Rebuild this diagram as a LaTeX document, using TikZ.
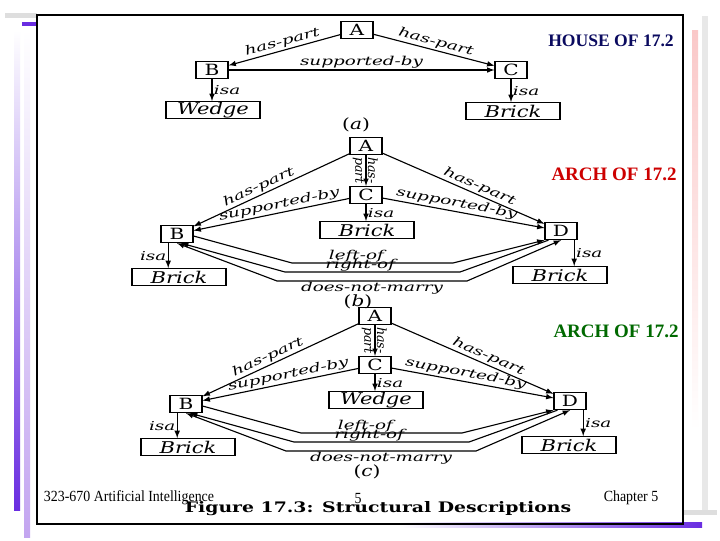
\documentclass[tikz,border=0pt]{standalone}
\usepackage{fontspec}
\setmainfont{Liberation Serif}
\newfontfamily\figfont[FakeStretch=1.3]{DejaVu Serif}
\newfontfamily\relfont[FakeStretch=1.5]{DejaVu Serif}
\newfontfamily\plainfont{DejaVu Serif}
\newfontfamily\footfont[FakeStretch=0.9]{Liberation Serif}
\usepackage{xcolor}
\usepackage{tikz}
\definecolor{barpurple}{RGB}{105,45,225}
\definecolor{barlilac}{RGB}{195,165,240}
\definecolor{barpink}{RGB}{250,200,200}
\definecolor{bargray}{RGB}{222,222,222}
\definecolor{housenavy}{RGB}{10,10,95}
\definecolor{archred}{RGB}{205,0,0}
\definecolor{archgreen}{RGB}{0,105,0}
\tikzset{
  pointbox/.style={draw, thick, minimum width=0.8cm, minimum height=0.43cm, inner sep=0pt, font=\figfont\fontsize{11}{11}\selectfont},
  objbox/.style={draw, thick, minimum width=2.35cm, minimum height=0.42cm, inner sep=0pt, font=\figfont\itshape\fontsize{11.5}{11.5}\selectfont},
  rellabel/.style={font=\relfont\itshape\fontsize{8.7}{8.7}\selectfont, inner sep=1pt},
  uplabel/.style={font=\plainfont\itshape\fontsize{9}{9}\selectfont, inner sep=1pt, rotate=-90},
  relarrow/.style={thick, -latex},
  heading/.style={font=\bfseries\fontsize{12.5}{12.5}\selectfont},
  footer/.style={font=\footfont\fontsize{11}{11}\selectfont},
  figcap/.style={font=\figfont\fontsize{11}{11}\selectfont},
}

\begin{document}
\begin{tikzpicture}[x=0.025cm,y=-0.025cm]
\useasboundingbox (0,0) rectangle (720,540);
\fill[white] (0,0) rectangle (720,540);
% slide decoration
\fill[bargray] (5,13) rectangle (37,18);
\fill[barpurple] (22,22) rectangle (37,26);
\shade[top color=white, bottom color=barpurple] (14,30) rectangle (20,510);
\shade[top color=white, bottom color=barlilac] (24,30) rectangle (30,537);
\shade[top color=barpink, bottom color=white] (692,30) rectangle (698,430);
\fill[bargray!70] (702,16) rectangle (708,510);
\fill[bargray] (683,510) rectangle (717,515);
\shade[left color=white, right color=barpurple] (400,522) rectangle (702,527);
\draw[thick] (37,15) rectangle (683,524);

% (a) house
\node[pointbox] (Aa) at (357,30) {A};
\node[pointbox] (Ba) at (212,70) {B};
\node[pointbox] (Ca) at (511,70) {C};
\node[objbox] (Wa) at (213,110) {Wedge};
\node[objbox] (Ka) at (513,111) {Brick};
\draw[relarrow] (Aa) -- node[rellabel, sloped, above] {has-part} (Ba);
\draw[relarrow] (Aa) -- node[rellabel, sloped, above] {has-part} (Ca);
\draw[relarrow] (Ba) -- node[rellabel, above] {supported-by} (Ca);
\draw[relarrow] (Ba) -- node[rellabel, right] {isa} (Ba |- Wa.north);
\draw[relarrow] (Ca) -- node[rellabel, right] {isa} (Ca |- Ka.north);
\node[figcap] (capa) at (356,125) {(\textit{a})};
\node[heading, text=housenavy] (house) at (611,41) {HOUSE OF 17.2};

% (b) and (c) arches
\foreach \p/\dx/\dy/\obj in {b/0/0/Brick, c/9/170/Wedge} {
  \begin{scope}[shift={(\dx,\dy)}]
    \node[pointbox] (A\p) at (366,146) {A};
    \node[pointbox] (C\p) at (366,195) {C};
    \node[objbox] (K\p) at (367,230) {\obj};
    \node[pointbox] (B\p) at (177,234) {B};
    \node[pointbox] (D\p) at (561,231) {D};
    \node[objbox] (L\p) at (179,277) {Brick};
    \node[objbox] (R\p) at (560,275) {Brick};
    \draw[relarrow] (A\p) -- node[rellabel, sloped, above, pos=0.56] {has-part} (B\p);
    \draw[relarrow] (A\p) -- node[rellabel, sloped, above, pos=0.58] {has-part} (D\p);
    \draw[relarrow] (A\p) -- node[uplabel, above] {has-} node[uplabel, below] {part} (C\p);
    \draw[relarrow] (C\p) -- node[rellabel, sloped, above, pos=0.44] {supported-by} (B\p);
    \draw[relarrow] (C\p) -- node[rellabel, sloped, above, pos=0.45] {supported-by} (D\p);
    \draw[relarrow] (C\p) -- node[rellabel, right] {isa} (C\p |- K\p.north);
    \draw[relarrow] ([xshift=-0.22cm]B\p.south) -- node[rellabel, left] {isa} ([xshift=-0.22cm]B\p.south |- L\p.north);
    \draw[relarrow] ([xshift=0.33cm]D\p.south) -- node[rellabel, right] {isa} ([xshift=0.33cm]D\p.south |- R\p.north);
    % left-of, right-of, does-not-marry
    \draw[relarrow] ([yshift=-0.05cm]B\p.east) -- (292,263) -- node[rellabel, above, inner sep=0.5pt, pos=0.4] {left-of} (453,263) -- (D\p.south west);
    \draw[relarrow] ([xshift=0.1cm]D\p.south west) -- (460,272) -- node[rellabel, above, inner sep=0.3pt, pos=0.57] {right-of} (285,272) -- ([xshift=0.1cm]B\p.south);
    \draw[relarrow, latex-latex] (D\p.south) -- (467,281) -- node[rellabel, below, inner sep=0.5pt] {does-not-marry} (277,281) -- (B\p.south);
    \node[figcap] (cap\p) at (358,302) {(\textit{\p})};
  \end{scope}
}
\node[heading, text=archred, font=\bfseries\fontsize{13.5}{13.5}\selectfont] (archb) at (614,174) {ARCH OF 17.2};
\node[heading, text=archgreen, font=\bfseries\fontsize{13.5}{13.5}\selectfont] (archc) at (616,331) {ARCH OF 17.2};

% footer
\node[footer] (course) at (129,498) {323-670 Artificial Intelligence};
\node[footer] (page) at (358,498) {5};
\node[footer] (chapter) at (631,498) {Chapter 5};
\node[font=\figfont\bfseries\fontsize{10.3}{10.3}\selectfont] (figure) at (378,509) {Figure 17.3: Structural Descriptions};
\end{tikzpicture}
\end{document}
